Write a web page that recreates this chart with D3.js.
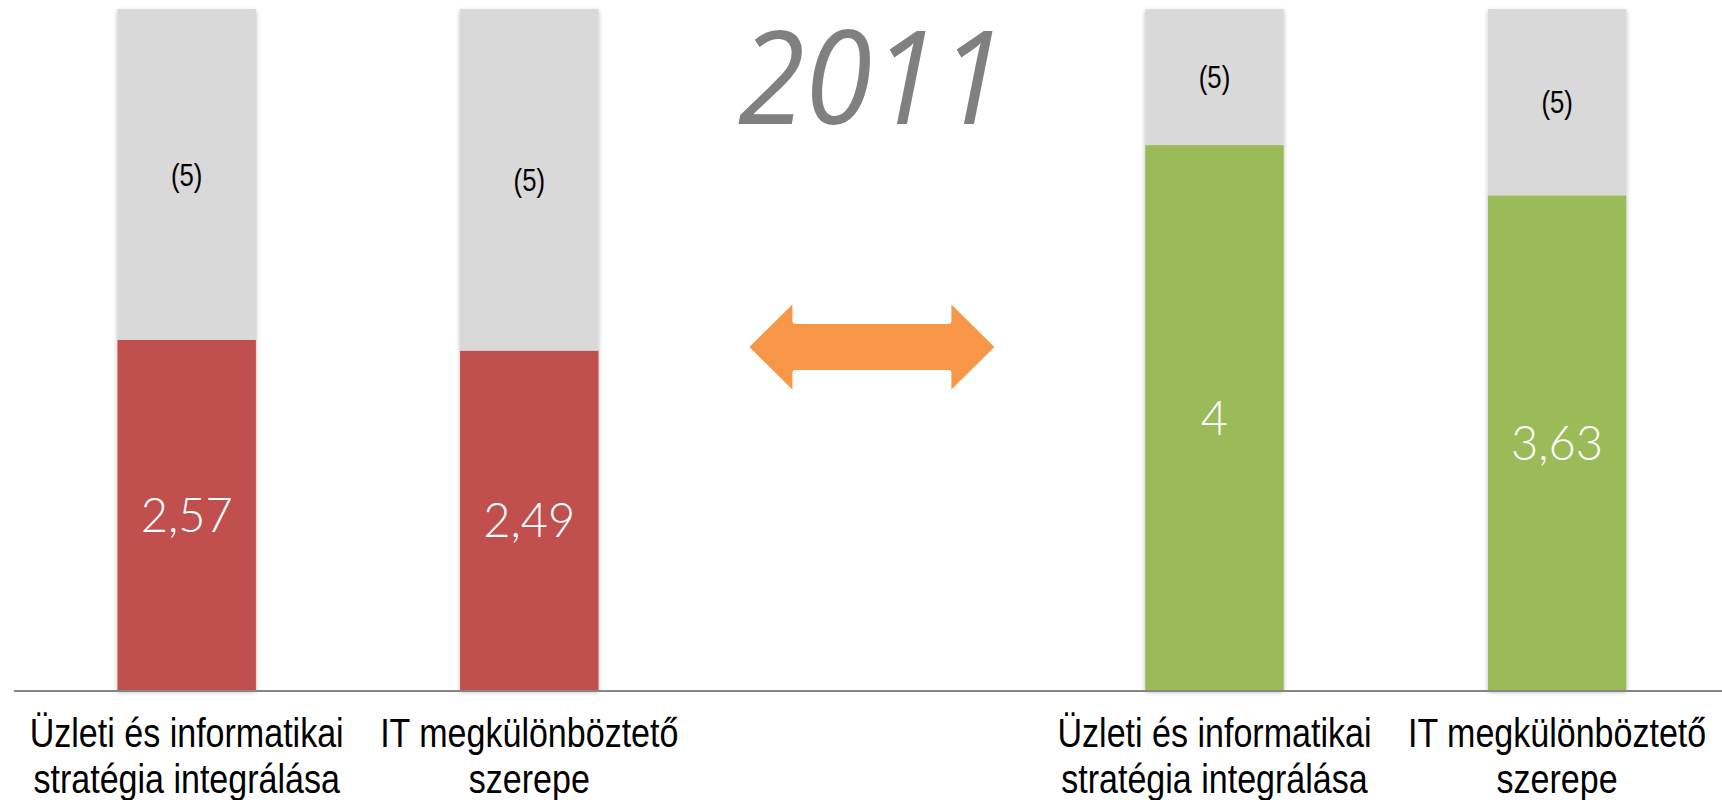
<!DOCTYPE html>
<html>
<head>
<meta charset="utf-8">
<script src="https://cdn.jsdelivr.net/npm/d3@7"></script>
<style>
  html, body { margin: 0; padding: 0; background: #ffffff; }
  svg { display: block; }
</style>
</head>
<body>
<svg id="chart" width="1722" height="800"></svg>
<script>
// ---- data ----
const slots = ["L0", "L1", "gap", "R0", "R1"];
const categoryLines = [
  ["Üzleti és informatikai", "stratégia integrálása"],
  ["IT megkülönböztető", "szerepe"]
];
const leftValues = [2.57, 2.49];
const rightValues = [4, 3.63];
const maxValue = 5;
const maxLabel = "(5)";
const title = "2011";
const colors = { left: "#C0504D", right: "#9BBB59", rest: "#D9D9D9", arrow: "#F79646" };

const bars = [
  { slot: "L0", cat: 0, value: leftValues[0], color: colors.left },
  { slot: "L1", cat: 1, value: leftValues[1], color: colors.left },
  { slot: "R0", cat: 0, value: rightValues[0], color: colors.right },
  { slot: "R1", cat: 1, value: rightValues[1], color: colors.right }
];

const svg = d3.select("#chart");
const W = 1722, H = 800;
const condFont = "'Liberation Sans', Arimo, Arial, sans-serif";
const squeeze = 0.83;

const x = d3.scaleBand().domain(slots).range([15.4, 1728.4])
  .paddingInner(0.596).paddingOuter(0.298);
const y = d3.scaleLinear().domain([0, maxValue]).range([690, 9]);

const hu = d3.formatLocale({ decimal: ",", thousands: " ", grouping: [3], currency: ["", " Ft"] });
const fmt = hu.format("~g");

// shadow filter
const defs = svg.append("defs");
const f = defs.append("filter").attr("id", "shadow")
  .attr("x", "-10%").attr("y", "-5%").attr("width", "120%").attr("height", "110%");
f.append("feDropShadow").attr("dx", 0).attr("dy", 2).attr("stdDeviation", 2)
  .attr("flood-color", "#000").attr("flood-opacity", 0.3);

const g = svg.append("g");

const barG = g.selectAll("g.bar").data(bars).join("g").attr("class", "bar")
  .attr("filter", "url(#shadow)");

barG.append("rect")
  .attr("x", d => x(d.slot)).attr("width", x.bandwidth())
  .attr("y", y(maxValue)).attr("height", d => y(d.value) - y(maxValue))
  .attr("fill", colors.rest);
barG.append("rect")
  .attr("x", d => x(d.slot)).attr("width", x.bandwidth())
  .attr("y", d => y(d.value)).attr("height", d => y(0) - y(d.value))
  .attr("fill", d => d.color);

// labels in grey part
g.selectAll("text.max").data(bars).join("text").attr("class", "max cond")
  .attr("x", d => x(d.slot) + x.bandwidth() / 2)
  .attr("y", d => (y(maxValue) + y(d.value)) / 2)
  .attr("dy", "0.36em")
  .attr("text-anchor", "middle")
  .attr("font-family", condFont)
  .attr("font-size", 31)
  .attr("fill", "#000")
  .text(maxLabel);

// value labels
g.selectAll("text.val").data(bars).join("text").attr("class", "val")
  .attr("x", d => x(d.slot) + x.bandwidth() / 2)
  .attr("y", d => (y(d.value) + y(0)) / 2)
  .attr("dy", "0.36em")
  .attr("text-anchor", "middle")
  .attr("font-family", "Lato, 'Open Sans', sans-serif")
  .attr("font-weight", 300)
  .attr("font-size", 47)
  .attr("fill", "#ffffff")
  .text(d => fmt(d.value));

// axis line
g.append("line")
  .attr("x1", 14).attr("x2", W)
  .attr("y1", y(0) + 1).attr("y2", y(0) + 1)
  .attr("stroke", "#868686").attr("stroke-width", 2);

// category labels (one text per line)
const lines = [];
bars.forEach(d => categoryLines[d.cat].forEach((t, i) => lines.push({ d, t, i })));
g.selectAll("text.cat").data(lines).join("text").attr("class", "cat cond")
  .attr("x", o => x(o.d.slot) + x.bandwidth() / 2)
  .attr("y", o => 747 + o.i * 46)
  .attr("text-anchor", "middle")
  .attr("font-family", condFont)
  .attr("font-size", 41)
  .attr("fill", "#000")
  .text(o => o.t);

// condense the narrow-font texts horizontally
g.selectAll("text.cond").each(function () {
  const len = this.getComputedTextLength();
  d3.select(this).attr("textLength", len * squeeze).attr("lengthAdjust", "spacingAndGlyphs");
});

// title
const cx = x("gap") + x.bandwidth() / 2;
g.append("text")
  .attr("x", cx).attr("y", 124)
  .attr("text-anchor", "middle")
  .attr("font-family", "'Open Sans', 'DejaVu Sans', sans-serif")
  .attr("font-style", "italic")
  .attr("font-size", 130)
  .attr("textLength", 268)
  .attr("lengthAdjust", "spacingAndGlyphs")
  .attr("fill", "#808080")
  .text(title);

// double arrow
const cy = 347, half = 122.5, headL = 43, headH = 42.5, shaftH = 23, r = 3;
const p = d3.path();
p.moveTo(cx - half, cy);
p.lineTo(cx - half + headL, cy - headH);
p.lineTo(cx - half + headL, cy - shaftH - r);
p.quadraticCurveTo(cx - half + headL, cy - shaftH, cx - half + headL + r, cy - shaftH);
p.lineTo(cx + half - headL - r, cy - shaftH);
p.quadraticCurveTo(cx + half - headL, cy - shaftH, cx + half - headL, cy - shaftH - r);
p.lineTo(cx + half - headL, cy - headH);
p.lineTo(cx + half, cy);
p.lineTo(cx + half - headL, cy + headH);
p.lineTo(cx + half - headL, cy + shaftH + r);
p.quadraticCurveTo(cx + half - headL, cy + shaftH, cx + half - headL - r, cy + shaftH);
p.lineTo(cx - half + headL + r, cy + shaftH);
p.quadraticCurveTo(cx - half + headL, cy + shaftH, cx - half + headL, cy + shaftH + r);
p.lineTo(cx - half + headL, cy + headH);
p.closePath();
g.append("path").attr("d", p.toString()).attr("fill", colors.arrow);
</script>
</body>
</html>
